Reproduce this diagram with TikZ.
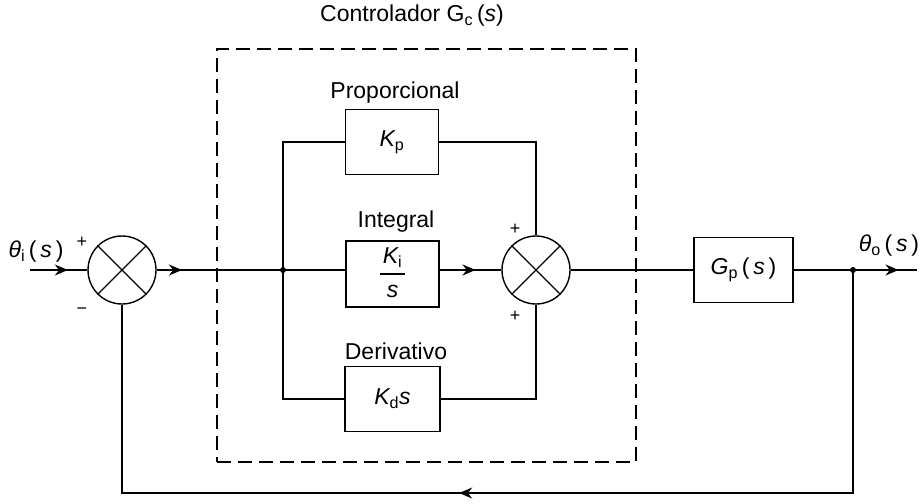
\documentclass[tikz,border=0pt]{standalone}
\usepackage{fontspec}
\setmainfont{Liberation Sans}
\usetikzlibrary{arrows.meta,decorations.markings,calc}
\begin{document}
\begin{tikzpicture}[x=1pt,y=-1pt,
  line width=1.4pt,
  blk/.style={draw, line width=1.6pt, minimum width=93pt, minimum height=65pt, inner sep=0pt, font=\fontsize{23}{26}\selectfont},
  sumj/.style={draw, line width=1.4pt, circle, minimum size=68pt, inner sep=0pt},
  lbl/.style={font=\fontsize{23}{26}\selectfont, inner sep=0pt},
  sgn/.style={font=\fontsize{18}{20}\selectfont, inner sep=0pt},
  midarr/.style={postaction={decorate}, decoration={markings, mark=at position #1 with {\arrow{Stealth[length=13pt,width=11pt]}}}},
  jdot/.style={circle, fill, inner sep=0pt, minimum size=6pt}
]
\useasboundingbox (0,0) rectangle (923,503);

% controller frame
\node[draw, line width=1.3pt, dash pattern=on 14pt off 7pt, minimum width=419pt, minimum height=413pt, inner sep=0pt] (ctrl) at (426.5,255.5) {};
\node[lbl] (title) at (412,16) {Controlador G\textsubscript{c}\,({\itshape s})};

% summing junctions
\node[sumj] (s1) at (122,270) {};
\draw[line width=1.3pt] (s1.north west) -- (s1.south east) (s1.north east) -- (s1.south west);
\node[sumj] (s2) at (536,270) {};
\draw[line width=1.3pt] (s2.north west) -- (s2.south east) (s2.north east) -- (s2.south west);

% blocks
\node[blk] (kp) at (392,142) {{\itshape K}\textsubscript{p}};
\node[blk] (ki) at (392.5,274) {{\setlength{\arrayrulewidth}{1.2pt}\setlength{\tabcolsep}{3pt}\renewcommand{\arraystretch}{1.25}\begin{tabular}{c}{\itshape K}\textsubscript{i}\\\hline {\itshape s}\end{tabular}}};
\node[blk, minimum width=95pt] (kd) at (392.5,399) {{\itshape K}\textsubscript{d}{\itshape s}};
\node[blk, minimum width=99pt] (gp) at (743.5,270) {{\itshape G}\textsubscript{p}\,(\,{\itshape s}\,)};

% labels
\node[lbl] (lp) at (395,93) {Proporcional};
\node[lbl] (li) at (396,222) {Integral};
\node[lbl] (ld) at (396,351) {Derivativo};
\node[lbl] (thi) at (36,252) {{\itshape θ}\textsubscript{i}\,(\,{\itshape s}\,)};
\node[lbl] (tho) at (889,246) {{\itshape θ}\textsubscript{o}\,(\,{\itshape s}\,)};

% signs
\node[sgn] (p1) at (82,242) {+};
\node[sgn] (m1) at (82,311) {−};
\node[sgn] (p2) at (515,229) {+};
\node[sgn] (p3) at (515,316) {+};

% coordinates
\coordinate (in) at (30,270);
\coordinate (br) at (283,270);
\coordinate (fb) at (853,270);
\coordinate (out) at (917,270);
\coordinate (fbl) at (0,493);

% connectors
\draw[midarr=0.66] (in) -- (s1.west |- in);
\draw[midarr=0.2] (s1.east |- br) -- (br);
\draw (br) -- (ki.west |- br);
\draw (kp.west) -- (kp.west -| br) -- (kd.west -| br) -- (kd.west);
\draw (kp.east) -| (s2.north);
\draw (kd.east) -| (s2.south);
\draw[midarr=0.58] (ki.east |- s2.west) -- (s2.west);
\draw (s2.east) -- (gp.west);
\draw[midarr=0.85] (gp.east) -- (out);
\draw[midarr=0.54] (fb) -- (fb |- fbl) -- (s1 |- fbl) -- (s1.south);
\node[jdot] (brd) at (br) {};
\node[jdot] (fbd) at (fb) {};
\end{tikzpicture}
\end{document}
